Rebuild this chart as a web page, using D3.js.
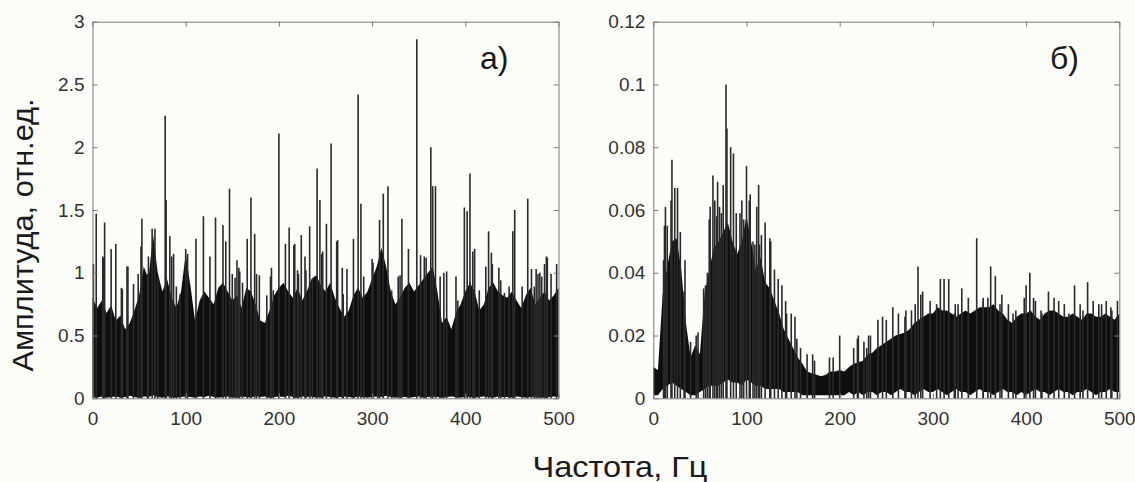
<!DOCTYPE html>
<html>
<head>
<meta charset="utf-8">
<script src="https://cdn.jsdelivr.net/npm/d3@7"></script>
<style>
  body { margin: 0; background: #fcfcf9; }
  svg { display: block; }
  text { font-family: "Liberation Sans", Arial, sans-serif; }
</style>
</head>
<body>
<svg id="chart" width="1135" height="482"></svg>
<script>
// Frequency grid step (Hz) used by the envelope arrays below: index i -> i * freqStep Hz
const freqStep = 5;

// ---- Panel а): amplitude spectrum, relative units ----
// Top of the dense noise band, 0..500 Hz every 5 Hz
const bandTopA = [
  0.80, 0.72, 0.78, 0.68, 0.74, 0.62, 0.66, 0.55, 0.60, 0.70,
  0.82, 1.05, 0.95, 1.30, 1.00, 0.85, 0.95, 0.80, 0.72, 0.85,
  1.15, 0.90, 0.62, 0.78, 0.85, 0.80, 0.75, 0.88, 0.92, 0.85,
  0.78, 0.82, 0.72, 0.88, 0.85, 0.75, 0.62, 0.60, 0.70, 0.82,
  0.88, 0.92, 0.85, 0.80, 0.88, 0.78, 0.85, 0.95, 0.98, 0.90,
  0.85, 0.92, 0.80, 0.72, 0.65, 0.70, 0.82, 0.88, 0.80, 0.85,
  0.95, 1.05, 1.20, 1.05, 0.85, 0.75, 0.80, 0.88, 0.92, 0.85,
  0.90, 0.95, 1.00, 1.05, 0.85, 0.60, 0.65, 0.55, 0.68, 0.75,
  0.85, 0.92, 0.85, 0.70, 0.75, 0.88, 0.92, 0.85, 0.82, 0.80,
  0.85, 0.78, 0.72, 0.82, 0.88, 0.75, 0.80, 0.85, 0.78, 0.82,
  0.88
];
// Bottom of the dense band
const bandLowA = [
  0.010, 0.005, 0.015, 0.005, 0.010, 0.015, 0.005, 0.010, 0.020, 0.010,
  0.005, 0.015, 0.010, 0.025, 0.010, 0.005, 0.015, 0.010, 0.005, 0.010,
  0.015, 0.010, 0.005, 0.015, 0.010, 0.020, 0.010, 0.005, 0.010, 0.015,
  0.005, 0.010, 0.015, 0.010, 0.005, 0.020, 0.010, 0.015, 0.005, 0.010,
  0.015, 0.010, 0.020, 0.010, 0.005, 0.015, 0.010, 0.015, 0.005, 0.010,
  0.015, 0.010, 0.005, 0.010, 0.015, 0.010, 0.005, 0.015, 0.010, 0.005,
  0.010, 0.015, 0.010, 0.020, 0.010, 0.005, 0.015, 0.010, 0.005, 0.010,
  0.015, 0.005, 0.010, 0.015, 0.010, 0.005, 0.010, 0.015, 0.010, 0.005,
  0.015, 0.010, 0.005, 0.010, 0.015, 0.010, 0.005, 0.015, 0.010, 0.010,
  0.005, 0.015, 0.010, 0.005, 0.010, 0.015, 0.010, 0.005, 0.010, 0.015,
  0.010
];
// Tallest individual spectral lines
const spikeFreqA = [
  1, 4, 11, 13, 20, 25, 32, 37, 44, 49, 52, 53, 60, 64, 67, 70, 78, 79, 83, 85,
  90, 100, 102, 111, 119, 126, 132, 140, 147, 150, 155, 158, 166, 170, 174, 179, 191, 194, 200, 207,
  211, 216, 221, 224, 228, 233, 236, 241, 244, 246, 251, 256, 262, 269, 280, 285, 288, 291, 300, 308,
  312, 317, 321, 330, 332, 339, 348, 352, 356, 363, 365, 368, 373, 380, 392, 399, 402, 405, 410, 415,
  425, 429, 438, 447, 451, 453, 461, 467, 474, 478, 482, 485, 487, 492, 498
];
const spikeAmpA = [
  1.07, 1.47, 1.13, 1.40, 1.19, 1.23, 0.87, 1.05, 0.91, 0.99, 1.21, 1.43, 1.13, 1.35, 1.35, 0.97, 2.25, 1.58, 1.29, 1.13,
  0.89, 1.19, 1.15, 1.27, 1.45, 1.13, 1.44, 1.38, 1.67, 0.99, 1.10, 1.01, 1.27, 1.60, 1.31, 0.98, 0.97, 0.86, 2.11, 1.23,
  1.36, 1.22, 0.99, 1.30, 1.13, 1.37, 0.95, 1.83, 1.58, 1.15, 1.39, 2.03, 1.25, 0.83, 1.27, 2.42, 1.55, 0.97, 1.11, 1.42,
  1.63, 1.69, 0.86, 0.98, 1.43, 1.19, 2.86, 1.14, 1.13, 2.00, 1.69, 1.69, 0.97, 1.01, 0.78, 1.52, 1.49, 1.79, 1.19, 0.86,
  1.33, 1.07, 0.94, 0.89, 1.33, 1.50, 0.89, 1.59, 0.89, 0.99, 0.97, 1.07, 1.13, 0.99, 1.07
];
// Smaller lines just above the band
const minorFreqA = [
  12, 31, 38, 59, 87, 94, 143, 153, 157, 161, 176, 187, 192, 217, 220, 229, 247, 263, 268, 273,
  301, 306, 328, 358, 377, 390, 408, 422, 428, 436, 442, 471, 476, 480, 488
];
const minorAmpA = [
  1.12, 0.88, 1.05, 0.99, 1.15, 0.83, 1.25, 0.96, 1.04, 0.92, 0.99, 0.82, 1.04, 1.23, 1.02, 1.02, 1.17, 1.26, 1.04, 1.03,
  1.08, 1.02, 0.97, 1.12, 1.00, 0.97, 1.17, 1.05, 1.16, 1.04, 0.84, 1.03, 1.03, 1.00, 1.12
];

// ---- Panel б) ----
const bandTopB = [
  0.010, 0.009, 0.033, 0.042, 0.050, 0.051, 0.041, 0.024, 0.013, 0.017,
  0.014, 0.033, 0.041, 0.048, 0.050, 0.053, 0.056, 0.050, 0.046, 0.050,
  0.058, 0.050, 0.041, 0.045, 0.037, 0.035, 0.031, 0.027, 0.022, 0.019,
  0.016, 0.013, 0.011, 0.0085, 0.008, 0.0075, 0.007, 0.0075, 0.0085, 0.0085,
  0.009, 0.0085, 0.010, 0.011, 0.0115, 0.012, 0.014, 0.0145, 0.016, 0.017,
  0.018, 0.019, 0.020, 0.0205, 0.021, 0.022, 0.024, 0.025, 0.026, 0.027,
  0.027, 0.029, 0.028, 0.028, 0.027, 0.026, 0.027, 0.028, 0.027, 0.028,
  0.029, 0.029, 0.029, 0.030, 0.028, 0.027, 0.025, 0.024, 0.026, 0.027,
  0.027, 0.028, 0.026, 0.025, 0.027, 0.028, 0.028, 0.027, 0.026, 0.026,
  0.027, 0.026, 0.025, 0.027, 0.027, 0.026, 0.026, 0.027, 0.026, 0.025,
  0.027
];
const bandLowB = [
  0.001, 0.001, 0.003, 0.004, 0.005, 0.004, 0.003, 0.002, 0.001, 0.001,
  0.002, 0.003, 0.004, 0.004, 0.004, 0.005, 0.006, 0.005, 0.005, 0.004,
  0.006, 0.005, 0.004, 0.004, 0.003, 0.003, 0.003, 0.003, 0.002, 0.002,
  0.002, 0.002, 0.001, 0.001, 0.001, 0.001, 0.001, 0.001, 0.001, 0.001,
  0.001, 0.001, 0.002, 0.001, 0.002, 0.001, 0.002, 0.002, 0.001, 0.002,
  0.002, 0.001, 0.002, 0.003, 0.002, 0.002, 0.001, 0.002, 0.003, 0.002,
  0.002, 0.003, 0.002, 0.001, 0.002, 0.003, 0.002, 0.002, 0.001, 0.002,
  0.003, 0.002, 0.002, 0.001, 0.002, 0.003, 0.002, 0.002, 0.001, 0.002,
  0.001, 0.002, 0.003, 0.002, 0.002, 0.001, 0.002, 0.003, 0.002, 0.002,
  0.001, 0.002, 0.002, 0.003, 0.002, 0.001, 0.002, 0.002, 0.003, 0.002,
  0.002
];
const spikeFreqB = [
  12, 13, 15, 19, 20, 23, 26, 29, 33, 40, 46, 54, 58, 61, 64, 66, 69, 71, 73, 75,
  78, 79, 83, 86, 89, 95, 100, 103, 107, 111, 114, 120, 125, 130, 134, 142, 148, 152, 158, 165,
  173, 189, 200, 219, 226, 231, 241, 246, 250, 257, 263, 271, 277, 284, 287, 297, 304, 308, 312, 317,
  324, 331, 338, 347, 354, 359, 362, 367, 374, 381, 389, 398, 400, 404, 408, 416, 424, 430, 435, 441,
  452, 458, 466, 472, 478, 486, 491, 498
];
const spikeAmpB = [
  0.055, 0.061, 0.055, 0.063, 0.076, 0.067, 0.067, 0.053, 0.034, 0.018, 0.020, 0.035, 0.040, 0.061, 0.071, 0.063, 0.069, 0.061, 0.059, 0.068,
  0.100, 0.086, 0.080, 0.078, 0.059, 0.063, 0.074, 0.063, 0.050, 0.061, 0.049, 0.056, 0.051, 0.041, 0.038, 0.031, 0.027, 0.026, 0.016, 0.014,
  0.012, 0.013, 0.020, 0.019, 0.018, 0.020, 0.025, 0.026, 0.025, 0.029, 0.027, 0.028, 0.028, 0.042, 0.033, 0.031, 0.030, 0.038, 0.038, 0.038,
  0.030, 0.035, 0.032, 0.051, 0.032, 0.032, 0.042, 0.039, 0.033, 0.030, 0.028, 0.032, 0.036, 0.040, 0.032, 0.028, 0.034, 0.032, 0.031, 0.030,
  0.036, 0.030, 0.037, 0.031, 0.030, 0.031, 0.029, 0.031
];
const minorFreqB = [
  11, 34, 48, 56, 60, 68, 93, 97, 104, 109, 113, 116, 126, 138, 143, 154, 171, 193, 215, 220,
  229, 233, 270, 281, 289, 323, 327, 354, 372, 386, 410, 417, 446, 461, 481, 492
];
const minorAmpB = [
  0.044, 0.044, 0.021, 0.036, 0.057, 0.058, 0.059, 0.057, 0.065, 0.049, 0.068, 0.052, 0.050, 0.036, 0.027, 0.019, 0.014, 0.013, 0.016, 0.020,
  0.016, 0.020, 0.026, 0.030, 0.034, 0.027, 0.030, 0.031, 0.030, 0.027, 0.031, 0.027, 0.027, 0.028, 0.030, 0.028
];

// Axis ticks
const freqTicks = [0, 100, 200, 300, 400, 500];
const ampTicksA = [0, 0.5, 1, 1.5, 2, 2.5, 3];
const ampTicksB = [0, 0.02, 0.04, 0.06, 0.08, 0.1, 0.12];

const svg = d3.select("#chart");

function drawPanel(p) {
  const x = d3.scaleLinear().domain([0, 500]).range([p.left, p.right]);
  const y = d3.scaleLinear().domain([0, p.yMax]).range([p.bottom, p.top]);
  const g = svg.append("g");

  // dense noise band
  const band = p.bandTop.map((v, i) => ({ f: i * freqStep, hi: v, lo: p.bandLow[i] }));
  g.append("path")
    .datum(band)
    .attr("fill", "#0e0e0e")
    .attr("d", d3.area().x(d => x(d.f)).y0(d => y(d.lo)).y1(d => y(d.hi)));

  // individual spectral lines
  const lines = p.spikeF.map((f, i) => ({ f, a: p.spikeA[i] }))
    .concat(p.minorF.map((f, i) => ({ f, a: p.minorA[i] })));
  g.append("g").selectAll("line")
    .data(lines)
    .join("line")
    .attr("x1", d => x(d.f)).attr("x2", d => x(d.f))
    .attr("y1", y(0)).attr("y2", d => y(d.a))
    .attr("stroke", "#2a2a2a")
    .attr("stroke-width", 1.6);

  // box axes with inward ticks
  const styleAxis = sel => {
    sel.selectAll(".domain").attr("stroke", "#7a7a7a");
    sel.selectAll(".tick line").attr("stroke", "#7a7a7a");
    sel.selectAll(".tick text").attr("fill", "#333").style("font-size", "19px");
  };
  g.append("g").attr("transform", `translate(0,${p.bottom})`)
    .call(d3.axisBottom(x).tickValues(freqTicks).tickSizeInner(-5).tickSizeOuter(0).tickPadding(13))
    .call(styleAxis);
  g.append("g").attr("transform", `translate(0,${p.top})`)
    .call(d3.axisTop(x).tickValues(freqTicks).tickSizeInner(-5).tickSizeOuter(0).tickFormat(""))
    .call(styleAxis);
  g.append("g").attr("transform", `translate(${p.left},0)`)
    .call(d3.axisLeft(y).tickValues(p.yTicks).tickSizeInner(-5).tickSizeOuter(0).tickPadding(8).tickFormat(d => String(d)))
    .call(styleAxis);
  g.append("g").attr("transform", `translate(${p.right},0)`)
    .call(d3.axisRight(y).tickValues(p.yTicks).tickSizeInner(-5).tickSizeOuter(0).tickFormat(""))
    .call(styleAxis);

  g.append("text")
    .attr("x", p.labelX).attr("y", 69)
    .attr("fill", "#1a1a1a")
    .style("font-size", "32px")
    .text(p.label);
}

drawPanel({ left: 92.5, right: 558.5, top: 21.7, bottom: 398.3, yMax: 3,
  yTicks: ampTicksA, bandTop: bandTopA, bandLow: bandLowA,
  spikeF: spikeFreqA, spikeA: spikeAmpA, minorF: minorFreqA, minorA: minorAmpA,
  label: "а)", labelX: 480 });
drawPanel({ left: 653.3, right: 1119.3, top: 21.7, bottom: 398.3, yMax: 0.12,
  yTicks: ampTicksB, bandTop: bandTopB, bandLow: bandLowB,
  spikeF: spikeFreqB, spikeA: spikeAmpB, minorF: minorFreqB, minorA: minorAmpB,
  label: "б)", labelX: 1050 });

// shared axis titles
svg.append("text")
  .attr("transform", "translate(33,235) rotate(-90)")
  .attr("text-anchor", "middle")
  .attr("fill", "#1a1a1a")
  .attr("textLength", 273)
  .attr("lengthAdjust", "spacingAndGlyphs")
  .style("font-size", "29px")
  .text("Амплитуда, отн.ед.");
svg.append("text")
  .attr("x", 620).attr("y", 477)
  .attr("text-anchor", "middle")
  .attr("fill", "#1a1a1a")
  .attr("textLength", 175)
  .attr("lengthAdjust", "spacingAndGlyphs")
  .style("font-size", "29px")
  .text("Частота, Гц");
</script>
</body>
</html>
